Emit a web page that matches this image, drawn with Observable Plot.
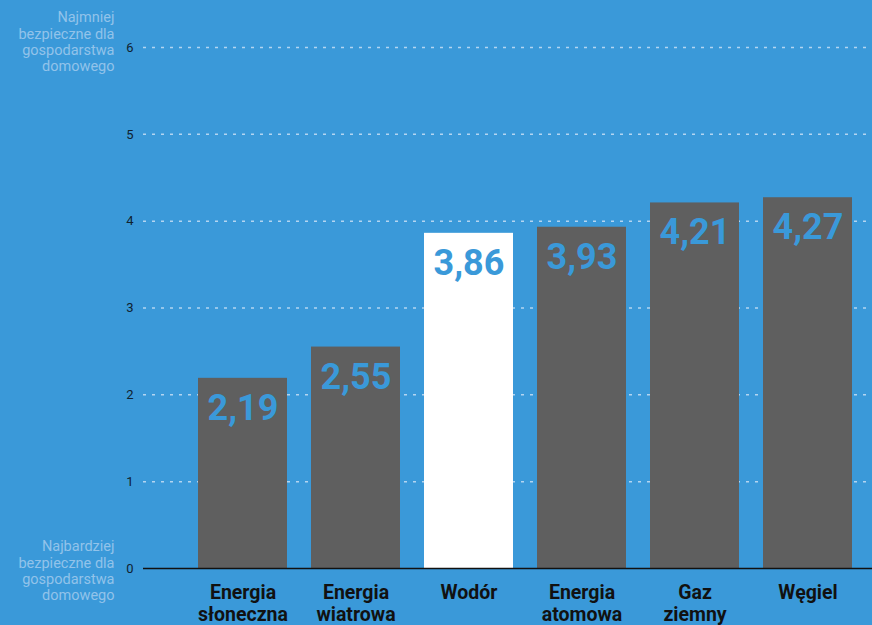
<!DOCTYPE html>
<html>
<head>
<meta charset="utf-8">
<script src="https://cdn.jsdelivr.net/npm/d3@7"></script>
<script src="https://cdn.jsdelivr.net/npm/@observablehq/plot@0.6"></script>
<style>
  html, body { margin: 0; padding: 0; background: #3a99d9; }
  #chart { width: 872px; height: 625px; overflow: hidden; }
</style>
</head>
<body>
<div id="chart"></div>
<script>
const categories = ["Energia\nsłoneczna", "Energia\nwiatrowa", "Wodór", "Energia\natomowa", "Gaz\nziemny", "Węgiel"];
const values = [2.19, 2.55, 3.86, 3.93, 4.21, 4.27];
const valueLabels = ["2,19", "2,55", "3,86", "3,93", "4,21", "4,27"];
const highlighted = "Wodór";
const yTicks = [0, 1, 2, 3, 4, 5, 6];
const topNote = "Najmniej\nbezpieczne dla\ngospodarstwa\ndomowego";
const bottomNote = "Najbardziej\nbezpieczne dla\ngospodarstwa\ndomowego";

const data = categories.map((c, i) => ({category: c, value: values[i], label: valueLabels[i]}));

const BG = "#3a99d9";
const chart = Plot.plot({
  width: 872,
  height: 625,
  marginTop: 47,
  marginBottom: 57,
  marginLeft: 143,
  marginRight: 0,
  style: {background: BG, fontFamily: "Roboto, sans-serif", overflow: "visible"},
  x: {domain: categories, paddingInner: 0.214, paddingOuter: 0.327, align: 0.73, label: null},
  y: {domain: [0, 6], label: null},
  marks: [
    Plot.gridY(yTicks.filter(d => d > 0), {stroke: "#b3d5f1", strokeOpacity: 1, strokeWidth: 1.5, strokeDasharray: "3,6"}),
    Plot.barY(data, {x: "category", y: "value", fill: d => d.category === highlighted ? "#ffffff" : "#5f5f5f"}),
    Plot.ruleY([0], {stroke: "#111111", strokeWidth: 1.5}),
    Plot.text(data, {x: "category", y: "value", text: "label", dy: 30, lineAnchor: "middle", fill: BG, fontSize: 36, fontWeight: "bold"}),
    Plot.axisY({ticks: yTicks, tickFormat: d => String(d), tickSize: 0, tickPadding: 10, fontSize: 13, fill: "#10222f", label: null}),
    Plot.axisX({tickSize: 0, tickPadding: 16, fontSize: 19.5, fontWeight: "bold", fill: "#111111", lineAnchor: "top", lineHeight: 1.08, label: null}),
    Plot.text([topNote], {y: () => 6, frameAnchor: "left", dx: -29, dy: -6, textAnchor: "end", lineAnchor: "middle", lineHeight: 1.12, fontSize: 14.5, fill: "#92c3ea"}),
    Plot.text([bottomNote], {y: () => 0, frameAnchor: "left", dx: -29, dy: 2, textAnchor: "end", lineAnchor: "middle", lineHeight: 1.12, fontSize: 14.5, fill: "#92c3ea"})
  ]
});
document.getElementById("chart").appendChild(chart);
</script>
</body>
</html>
